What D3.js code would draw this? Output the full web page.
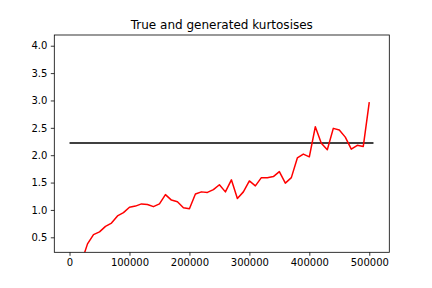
<!DOCTYPE html>
<html>
<head>
<meta charset="utf-8">
<script src="https://cdn.jsdelivr.net/npm/d3@7"></script>
<style>
  body { margin: 0; background: #fff; }
  svg { display: block; font-family: "DejaVu Sans", sans-serif; }
</style>
</head>
<body>
<svg></svg>
<script>
// generated kurtosis, one value every 10000 steps (first points lie below the view)
let steps = d3.range(0, 51).map(k => k * 10000)
let generated = [
  -0.8, -0.3, 0.05, 0.38, 0.55, 0.60, 0.70, 0.76, 0.89, 0.95,
  1.05, 1.07, 1.11, 1.10, 1.06, 1.11, 1.28, 1.18, 1.15, 1.04,
  1.02, 1.29, 1.33, 1.32, 1.37, 1.46, 1.33, 1.55, 1.21, 1.33,
  1.53, 1.44, 1.59, 1.59, 1.61, 1.70, 1.49, 1.59, 1.95, 2.02,
  1.97, 2.52, 2.22, 2.10, 2.49, 2.46, 2.33, 2.11, 2.18, 2.16,
  2.97
]
let trueX = [0, 507000]
let trueKurtosis = 2.224

let xTicks = [0, 100000, 200000, 300000, 400000, 500000]
let yTicks = [0.5, 1.0, 1.5, 2.0, 2.5, 3.0, 3.5, 4.0]

let width = 432
let height = 288
let padLeft = 54.3, padRight = 389.3, padTop = 35, padBottom = 252.3

let svg = d3.select('svg')
  .attr('width', width)
  .attr('height', height)

let xScale = d3.scaleLinear()
  .domain([-25400, 533400])
  .range([padLeft, padRight])

let yScale = d3.scaleLinear()
  .domain([0.226, 4.196])
  .range([padBottom, padTop])

svg.append('defs').append('clipPath')
  .attr('id', 'plot')
  .append('rect')
  .attr('x', padLeft)
  .attr('y', padTop)
  .attr('width', padRight - padLeft)
  .attr('height', padBottom - padTop)

let plot = svg.append('g').attr('clip-path', 'url(#plot)')

let line = d3.line()
  .x(d => xScale(d[0]))
  .y(d => yScale(d[1]))

plot.append('path')
  .datum(trueX.map(x => [x, trueKurtosis]))
  .attr('d', line)
  .attr('fill', 'none')
  .attr('stroke', '#000')
  .attr('stroke-width', 1.5)

plot.append('path')
  .datum(steps.map((s, i) => [s, generated[i]]))
  .attr('d', line)
  .attr('fill', 'none')
  .attr('stroke', '#ff0000')
  .attr('stroke-width', 1.5)
  .attr('stroke-linejoin', 'round')

let xAxis = d3.axisBottom(xScale)
  .tickValues(xTicks)
  .tickFormat(d3.format('d'))
  .tickSize(3.5)
  .tickPadding(3.5)

let yAxis = d3.axisLeft(yScale)
  .tickValues(yTicks)
  .tickFormat(d3.format('.1f'))
  .tickSize(3.5)
  .tickPadding(3.5)

let gx = svg.append('g')
  .attr('transform', 'translate(0,' + padBottom + ')')
  .call(xAxis)

let gy = svg.append('g')
  .attr('transform', 'translate(' + padLeft + ',0)')
  .call(yAxis)

for (let g of [gx, gy]) {
  g.select('.domain').remove()
  g.selectAll('.tick line').attr('stroke', '#000').attr('stroke-width', 0.8)
  g.selectAll('.tick text')
    .attr('fill', '#000')
    .style('font-size', '10px')
    .style('font-family', '"DejaVu Sans", sans-serif')
}

svg.append('rect')
  .attr('x', padLeft)
  .attr('y', padTop)
  .attr('width', padRight - padLeft)
  .attr('height', padBottom - padTop)
  .attr('fill', 'none')
  .attr('stroke', '#000')
  .attr('stroke-width', 0.8)

svg.append('text')
  .attr('x', (padLeft + padRight) / 2)
  .attr('y', 28.5)
  .attr('text-anchor', 'middle')
  .style('font-size', '12px')
  .text('True and generated kurtosises')
</script>
</body>
</html>
